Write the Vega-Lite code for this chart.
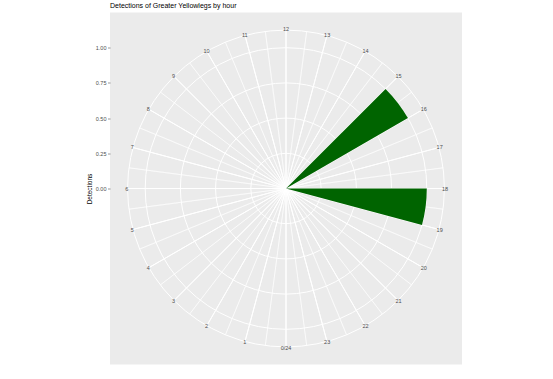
{
  "$schema": "https://vega.github.io/schema/vega-lite/v6.json",
  "autosize": {"type": "none"},
  "width": 352,
  "height": 352,
  "padding": {"left": 110, "top": 12.5, "right": 91, "bottom": 14.5},
  "background": "white",
  "view": {"fill": "#EBEBEB", "stroke": null},
  "config": {"font": "Liberation Sans"},
  "title": {
    "text": "Detections of Greater Yellowlegs by hour",
    "anchor": "start",
    "frame": "group",
    "fontSize": 7,
    "fontWeight": "normal",
    "color": "#000000",
    "font": "Liberation Sans",
    "offset": 3.5
  },
  "datasets": {
    "circles": [{"r": 0.25}, {"r": 0.5}, {"r": 0.75}, {"r": 1.0}, {"r": 1.125}],
    "spokes": [
      {"h": 0, "kind": "major"}, {"h": 1, "kind": "major"}, {"h": 2, "kind": "major"}, {"h": 3, "kind": "major"},
      {"h": 4, "kind": "major"}, {"h": 5, "kind": "major"}, {"h": 6, "kind": "major"}, {"h": 7, "kind": "major"},
      {"h": 8, "kind": "major"}, {"h": 9, "kind": "major"}, {"h": 10, "kind": "major"}, {"h": 11, "kind": "major"},
      {"h": 12, "kind": "major"}, {"h": 13, "kind": "major"}, {"h": 14, "kind": "major"}, {"h": 15, "kind": "major"},
      {"h": 16, "kind": "major"}, {"h": 17, "kind": "major"}, {"h": 18, "kind": "major"}, {"h": 19, "kind": "major"},
      {"h": 20, "kind": "major"}, {"h": 21, "kind": "major"}, {"h": 22, "kind": "major"}, {"h": 23, "kind": "major"},
      {"h": 0.5, "kind": "minor"}, {"h": 1.5, "kind": "minor"}, {"h": 2.5, "kind": "minor"}, {"h": 3.5, "kind": "minor"},
      {"h": 4.5, "kind": "minor"}, {"h": 5.5, "kind": "minor"}, {"h": 6.5, "kind": "minor"}, {"h": 7.5, "kind": "minor"},
      {"h": 8.5, "kind": "minor"}, {"h": 9.5, "kind": "minor"}, {"h": 10.5, "kind": "minor"}, {"h": 11.5, "kind": "minor"},
      {"h": 12.5, "kind": "minor"}, {"h": 13.5, "kind": "minor"}, {"h": 14.5, "kind": "minor"}, {"h": 15.5, "kind": "minor"},
      {"h": 16.5, "kind": "minor"}, {"h": 17.5, "kind": "minor"}, {"h": 18.5, "kind": "minor"}, {"h": 19.5, "kind": "minor"},
      {"h": 20.5, "kind": "minor"}, {"h": 21.5, "kind": "minor"}, {"h": 22.5, "kind": "minor"}, {"h": 23.5, "kind": "minor"}
    ],
    "labels": [
      {"h": 0, "label": "0/24"}, {"h": 1, "label": "1"}, {"h": 2, "label": "2"}, {"h": 3, "label": "3"},
      {"h": 4, "label": "4"}, {"h": 5, "label": "5"}, {"h": 6, "label": "6"}, {"h": 7, "label": "7"},
      {"h": 8, "label": "8"}, {"h": 9, "label": "9"}, {"h": 10, "label": "10"}, {"h": 11, "label": "11"},
      {"h": 12, "label": "12"}, {"h": 13, "label": "13"}, {"h": 14, "label": "14"}, {"h": 15, "label": "15"},
      {"h": 16, "label": "16"}, {"h": 17, "label": "17"}, {"h": 18, "label": "18"}, {"h": 19, "label": "19"},
      {"h": 20, "label": "20"}, {"h": 21, "label": "21"}, {"h": 22, "label": "22"}, {"h": 23, "label": "23"}
    ],
    "detections": [
      {"hour_start": 15, "hour_end": 16, "detections": 1},
      {"hour_start": 18, "hour_end": 19, "detections": 1}
    ],
    "yaxis": [{"v": 0}, {"v": 1}]
  },
  "layer": [
    {
      "data": {"name": "circles"},
      "mark": {"type": "arc", "filled": false, "stroke": "white", "strokeWidth": 1},
      "encoding": {
        "theta": {"datum": 0, "type": "quantitative", "stack": null, "scale": {"domain": [0, 24], "range": [3.14159265, 9.42477796]}},
        "theta2": {"datum": 24},
        "radius": {"field": "r", "type": "quantitative", "stack": null, "scale": {"type": "linear", "domain": [0, 1.25], "range": [0, 176], "zero": true, "nice": false}}
      }
    },
    {
      "data": {"name": "spokes"},
      "mark": {"type": "arc", "filled": false, "stroke": "white"},
      "encoding": {
        "theta": {"field": "h", "type": "quantitative", "stack": null},
        "theta2": {"field": "h"},
        "radius": {"datum": 1.125, "type": "quantitative", "stack": null},
        "strokeWidth": {"field": "kind", "type": "nominal", "scale": {"domain": ["major", "minor"], "range": [1, 0.5]}, "legend": null}
      }
    },
    {
      "data": {"name": "detections"},
      "mark": {"type": "arc", "color": "#006400", "stroke": null},
      "encoding": {
        "theta": {"field": "hour_start", "type": "quantitative", "stack": null},
        "theta2": {"field": "hour_end"},
        "radius": {"field": "detections", "type": "quantitative", "stack": null}
      }
    },
    {
      "data": {"name": "labels"},
      "mark": {"type": "text", "fontSize": 5.5, "color": "#4D4D4D", "align": "center", "baseline": "middle", "font": "Liberation Sans"},
      "encoding": {
        "theta": {"field": "h", "type": "quantitative", "stack": null},
        "radius": {"datum": 1.13, "type": "quantitative", "stack": null},
        "text": {"field": "label"}
      }
    },
    {
      "data": {"name": "yaxis"},
      "mark": {"type": "point", "opacity": 0},
      "encoding": {
        "y": {
          "field": "v",
          "type": "quantitative",
          "scale": {"domain": [-1.25, 1.25], "nice": false, "zero": false},
          "axis": {
            "values": [0, 0.25, 0.5, 0.75, 1],
            "format": ".2f",
            "title": "Detections",
            "grid": false,
            "domain": false,
            "tickColor": "#333333",
            "tickSize": 2.5,
            "tickWidth": 0.5,
            "labelFontSize": 5.5,
            "labelColor": "#4D4D4D",
            "labelFont": "Liberation Sans",
            "labelPadding": 1.5,
            "titleFontSize": 6.5,
            "titleFont": "Liberation Sans",
            "titleFontWeight": "normal",
            "titleColor": "#000000",
            "titlePadding": 2.5
          }
        }
      }
    }
  ]
}
